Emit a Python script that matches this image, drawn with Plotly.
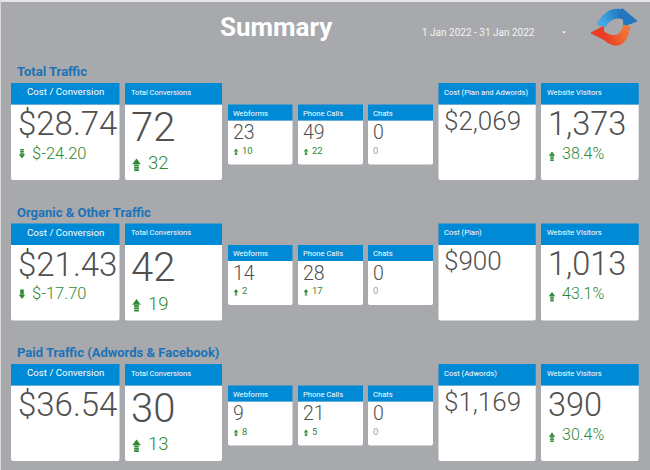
import numpy as np
import plotly.graph_objects as go

# values, one entry per section
sections = ["Total Traffic", "Organic & Other Traffic", "Paid Traffic (Adwords & Facebook)"]
cost_per_conv = [28.74, 21.43, 36.54]
cost_per_conv_delta = [-24.20, -17.70, None]
conversions = [72, 42, 30]
conversions_delta = [32, 19, 13]
webforms = [23, 14, 9]
webforms_delta = [10, 2, 8]
phone_calls = [49, 28, 21]
phone_calls_delta = [22, 17, 5]
chats = [0, 0, 0]
chats_delta = [0, 0, 0]
cost_labels = ["Cost (Plan and Adwords)", "Cost (Plan)", "Cost (Adwords)"]
costs = [2069, 900, 1169]
visitors = [1373, 1013, 390]
visitors_delta = [38.4, 43.1, 30.4]

BG = "#a7a9ac"
HEAD = "#0089d5"
GREY = "#505050"
GREEN = "#2f8a36"
TITLE_BLUE = "#1b72b8"
FONT = "Roboto"

row_top = [83, 223.5, 364]

fig = go.Figure()
shapes = []


def text(x, y, s, size, color=GREY, anchor="left", weight=None, family=FONT):
    fig.add_annotation(x=x, y=y, text=s, showarrow=False, xanchor=anchor, yanchor="middle",
                       borderpad=0, borderwidth=0,
                       font=dict(family=family, size=size, color=color, weight=weight))


def path(d, fill, line=None):
    shapes.append(dict(type="path", path=d, fillcolor=fill, layer="below",
                       line=dict(width=0 if line is None else 1, color=line or fill)))


def card(x0, x1, top, split, bottom):
    r = 2
    path(f"M{x0},{split} L{x1},{split} L{x1},{bottom-r} Q{x1},{bottom} {x1-r},{bottom} "
         f"L{x0+r},{bottom} Q{x0},{bottom} {x0},{bottom-r} Z", "white")
    path(f"M{x0},{top} L{x1},{top} L{x1},{split} L{x0},{split} Z", HEAD)


def arrow(cx, top, h, down=False, stripes=True):
    # little striped arrow used by the scorecards
    w = h * 0.34
    s = -1 if down else 1
    tip = top + h if down else top
    mid = tip + s * h * 0.45
    path(f"M{cx},{tip} L{cx+w},{mid} L{cx-w},{mid} Z", GREEN)
    w2 = w * 0.55
    end = tip + s * h
    if stripes:
        n = 3
        step = (end - mid) / n
        for i in range(n):
            a = mid + step * i + step * 0.2
            b = mid + step * (i + 1)
            path(f"M{cx-w2},{a} L{cx+w2},{a} L{cx+w2},{b} L{cx-w2},{b} Z", GREEN)
    else:
        path(f"M{cx-w2},{mid} L{cx+w2},{mid} L{cx+w2},{end} L{cx-w2},{end} Z", GREEN)


def band(p0, c0, p1, q0, d0, q1, c_from, c_to, n=8):
    # curved ribbon of the logo, cut in slices to fake the gradient
    t = np.linspace(0, 1, n + 1)
    bez = lambda a, c, b, u: (1-u)**2 * np.array(a) + 2*u*(1-u) * np.array(c) + u**2 * np.array(b)
    for i in range(n):
        a, b = bez(p0, c0, p1, t[i]), bez(p0, c0, p1, t[i+1])
        e, f = bez(q0, d0, q1, t[i]), bez(q0, d0, q1, t[i+1])
        mix = (np.array(c_from) + (np.array(c_to) - np.array(c_from)) * (i + .5) / n).astype(int)
        col = f"rgb({mix[0]},{mix[1]},{mix[2]})"
        path(f"M{a[0]},{a[1]} L{b[0]},{b[1]} L{f[0]},{f[1]} L{e[0]},{e[1]} Z", col, line=col)


# frame and heading
path("M0,0 L650,0 L650,2 L0,2 Z", "#e6e6e6")
path("M0,0 L1,0 L1,470 L0,470 Z", "#d8d8d8")
text(276.5, 26.5, "Summary", 26, "white", "center", "bold")
text(422, 32, "1 Jan 2022 - 31 Jan 2022", 10, "#f4f4f4")
path("M562,31.5 L566,31.5 L564,33.5 Z", "white")

# logo
band((597, 24), (609, 4), (625, 11), (605, 27), (612, 15), (624, 19), (70, 175, 232), (30, 110, 185))
path("M622,8.5 L637,21 L624,26 Z", "#2277bf", "#2277bf")
band((630, 27), (624, 56), (603, 39), (624, 25), (619, 42), (604, 32), (242, 125, 60), (235, 60, 35))
path("M591,33 L603,26.5 L605,40 Z", "#ea3c26", "#ea3c26")

for i, top in enumerate(row_top):
    split = top + 21.5
    bottom = top + 97
    small_top = top + 21.5
    small_split = small_top + 16
    small_bottom = small_top + 60

    text(17, top - 11.5, sections[i], 13, TITLE_BLUE, weight="bold")

    card(11, 119.5, top, split, bottom)
    text(65.3, top + 8.5, "Cost / Conversion", 9.7, "white", "center")
    text(17.5, top + 40.5, f"${cost_per_conv[i]:.2f}", 33, weight=300)
    d = cost_per_conv_delta[i]
    if d is not None:
        text(32, top + 70, f"${d:.2f}", 16.5, GREEN, weight=300)
        arrow(22, top + 66, 9.5, down=True, stripes=i == 0)

    card(125, 222, top, split, bottom)
    text(130.5, top + 9, "Total Conversions", 7.5, "white")
    text(130.5, top + 44, f"{conversions[i]}", 40, weight=300)
    text(148, top + 80, f"{conversions_delta[i]}", 18.5, GREEN, weight=300)
    arrow(136.5, top + 75.5, 12.5)

    columns = [(228, 292.5, "Webforms", webforms, webforms_delta),
               (298, 363, "Phone Calls", phone_calls, phone_calls_delta),
               (368, 433, "Chats", chats, chats_delta)]
    for x0, x1, label, vals, deltas in columns:
        card(x0, x1, small_top, small_split, small_bottom)
        text(x0 + 5, small_top + 8.5, label, 7.6, "white")
        text(x0 + 5, small_top + 28, f"{vals[i]}", 19.5, weight=300)
        dv = deltas[i]
        if dv:
            text(x0 + 14, small_top + 45.5, f"{dv}", 9.5, GREEN)
            arrow(x0 + 8, small_top + 44, 6.5)
        else:
            text(x0 + 5, small_top + 45.5, f"{dv}", 9.5, "#a0a0a0")

    card(438.5, 535.7, top, split, bottom)
    text(444, top + 9, cost_labels[i], 7.6, "white")
    text(444, top + 37.5, f"${costs[i]:,}", 26, weight=300)

    card(541, 638.7, top, split, bottom)
    text(547, top + 9, "Website Visitors", 7.6, "white")
    text(547.5, top + 40.5, f"{visitors[i]:,}", 32.5, weight=300)
    text(561.5, top + 70, f"{visitors_delta[i]}%", 16, GREEN, weight=300)
    arrow(552, top + 68.5, 9.5)

fig.update_layout(
    width=650, height=470,
    margin=dict(l=0, r=0, t=0, b=0),
    paper_bgcolor=BG, plot_bgcolor=BG,
    showlegend=False,
    shapes=shapes,
    xaxis=dict(range=[0, 650], visible=False, fixedrange=True),
    yaxis=dict(range=[470, 0], visible=False, fixedrange=True),
)

# browser default body margin would push the dashboard 8px off
fig.write_html("out.html", config=dict(displayModeBar=False),
               post_script="document.body.style.margin='0';document.documentElement.style.overflow='hidden';")
